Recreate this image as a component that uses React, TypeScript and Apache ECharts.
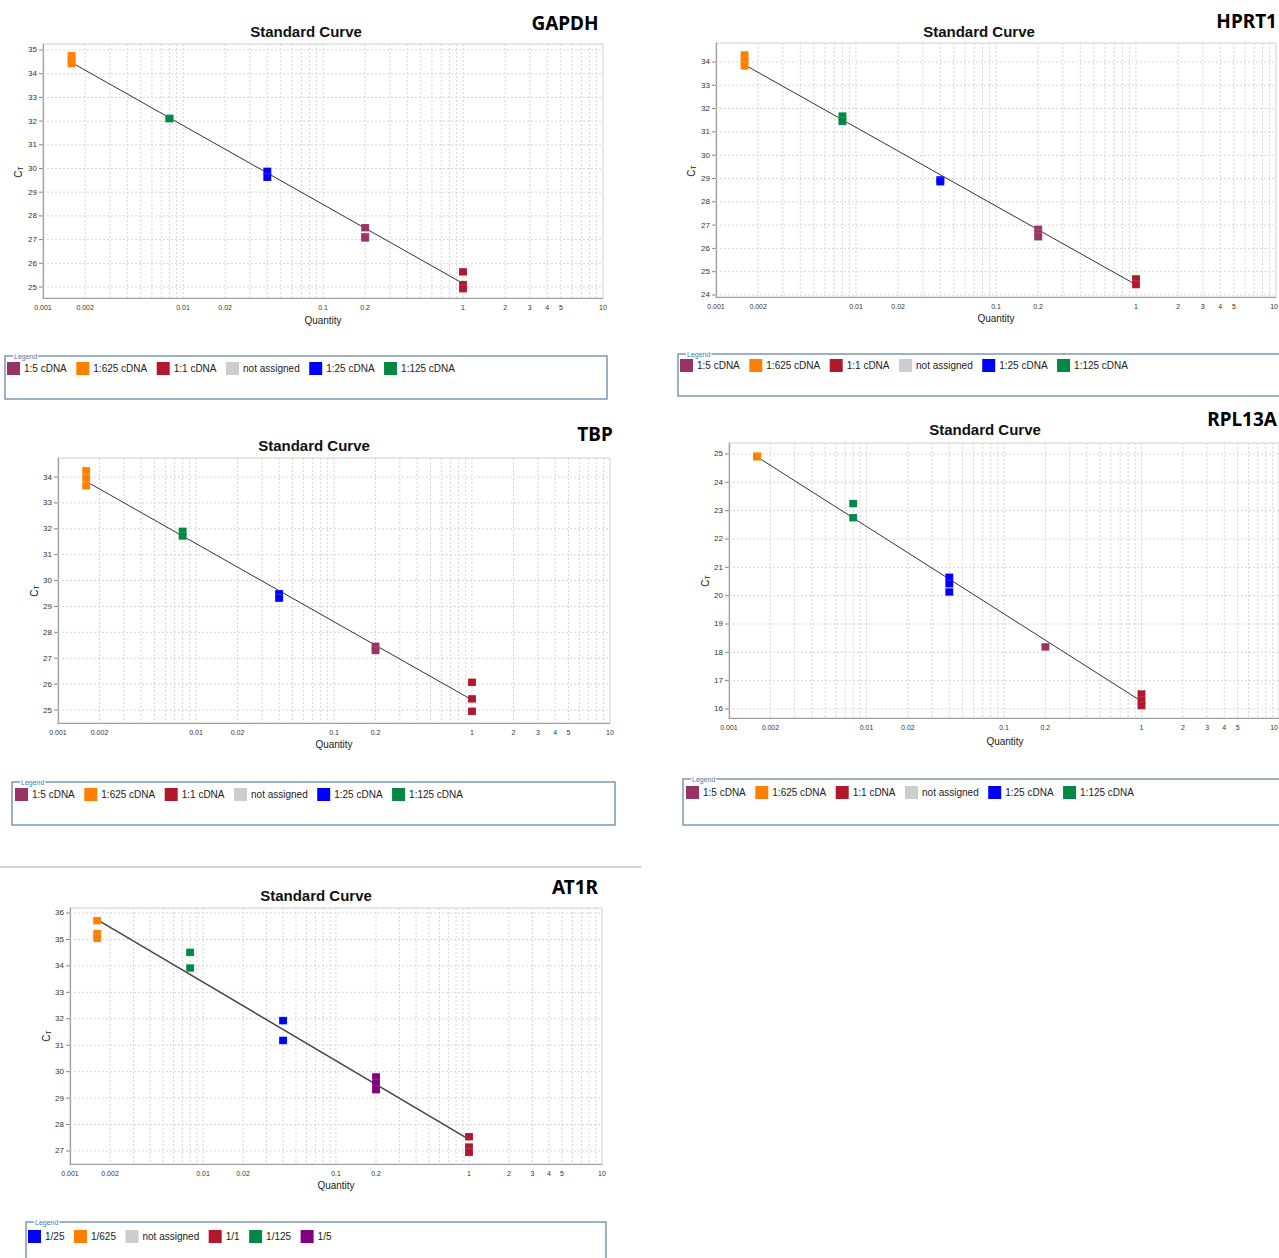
import { useEffect, useRef } from "react";
import * as echarts from "echarts";

// ---- quantities (relative cDNA dilutions) ----
const QTY_625 = 0.0016;
const QTY_125 = 0.008;
const QTY_25 = 0.04;
const QTY_5 = 0.2;
const QTY_1 = 1;

// ---- log axis grid / ticks ----
const xGridValues = [
  0.002, 0.003, 0.004, 0.005, 0.006, 0.007, 0.008, 0.009,
  0.01, 0.02, 0.03, 0.04, 0.05, 0.06, 0.07, 0.08, 0.09,
  0.1, 0.2, 0.3, 0.4, 0.5, 0.6, 0.7, 0.8, 0.9,
  1, 2, 3, 4, 5, 6, 7, 8, 9,
];
const xTickValues = [0.001, 0.002, 0.01, 0.02, 0.1, 0.2, 1, 2, 3, 4, 5, 10];
const xTickLabels = ["0.001", "0.002", "0.01", "0.02", "0.1", "0.2", "1", "2", "3", "4", "5", "10"];

// ---- GAPDH ----
const gapdhCt625 = [34.76, 34.6, 34.43];
const gapdhCt125 = [32.12, 32.1];
const gapdhCt25 = [29.88, 29.63];
const gapdhCt5 = [27.5, 27.12, 27.07];
const gapdhCt1 = [25.64, 25.1, 24.93];
const gapdhFit = [34.47, 25.15];
const gapdhYTicks = [25, 26, 27, 28, 29, 30, 31, 32, 33, 34, 35];

// ---- HPRT1 ----
const hprt1Ct625 = [34.3, 34.05, 33.83];
const hprt1Ct125 = [31.68, 31.45];
const hprt1Ct25 = [28.94, 28.86];
const hprt1Ct5 = [26.82, 26.65, 26.5];
const hprt1Ct1 = [24.69, 24.45];
const hprt1Fit = [33.88, 24.44];
const hprt1YTicks = [24, 25, 26, 27, 28, 29, 30, 31, 32, 33, 34];

// ---- TBP ----
const tbpCt625 = [34.24, 33.96, 33.66];
const tbpCt125 = [31.9, 31.72];
const tbpCt25 = [29.49, 29.32];
const tbpCt5 = [27.46, 27.3];
const tbpCt1 = [26.07, 25.43, 24.95];
const tbpFit = [33.83, 25.39];
const tbpYTicks = [25, 26, 27, 28, 29, 30, 31, 32, 33, 34];

// ---- RPL13A ----
const rpl13aCt625 = [24.93, 24.9];
const rpl13aCt125 = [23.25, 22.75];
const rpl13aCt25 = [20.65, 20.42, 20.13];
const rpl13aCt5 = [18.19];
const rpl13aCt1 = [16.53, 16.3, 16.12];
const rpl13aFit = [24.9, 16.27];
const rpl13aYTicks = [16, 17, 18, 19, 20, 21, 22, 23, 24, 25];

// ---- AT1R ----
const at1rCt625 = [35.71, 35.22, 35.04];
const at1rCt125 = [34.51, 33.92];
const at1rCt25 = [31.93, 31.18];
const at1rCt5 = [29.8, 29.56, 29.32];
const at1rCt1 = [27.54, 27.15, 26.95];
const at1rFit = [35.75, 27.44];
const at1rYTicks = [27, 28, 29, 30, 31, 32, 33, 34, 35, 36];

// ---- legends ----
const cdnaLegend = ["1:5 cDNA", "1:625 cDNA", "1:1 cDNA", "not assigned", "1:25 cDNA", "1:125 cDNA"];
const at1rLegend = ["1/25", "1/625", "not assigned", "1/1", "1/125", "1/5"];

// ---- colours ----
const C_MAROON = "#993366";
const C_ORANGE = "#ff8000";
const C_RED = "#b2182b";
const C_GREY = "#c0c0c0";
const C_BLUE = "#0000ff";
const C_GREEN = "#008844";
const C_PURPLE = "#800080";

const FONT = '"Liberation Sans", Arial, sans-serif';
const GENE_FONT = '"Noto Sans", "Open Sans", sans-serif';
const GRID_COLOR = "#d6d6d6";
const PAGE_W = 1279;

type Group = { name: string; color: string; qty: number; ct: number[] };
type Layout = {
  gene: string;
  left: number; top: number; width: number; height: number;
  yMin: number; yMax: number;
  title: number[]; geneXY: number[]; geneAlign: string;
  qXY: number[]; ctXY: number[];
  legendBox: number[]; legendItems: number[];
};

const layouts: Layout[] = [
  { gene: "GAPDH", left: 43, top: 44, width: 560, height: 254, yMin: 24.536, yMax: 35.253,
    title: [306, 31], geneXY: [565, 23], geneAlign: "center", qXY: [323, 320], ctXY: [18, 172],
    legendBox: [5, 356, 602, 43], legendItems: [7, 362] },
  { gene: "HPRT1", left: 716, top: 43, width: 560, height: 254, yMin: 23.914, yMax: 34.815,
    title: [979, 31], geneXY: [1277, 21], geneAlign: "right", qXY: [996, 318], ctXY: [691, 171],
    legendBox: [678, 354, 640, 42], legendItems: [680, 359] },
  { gene: "TBP", left: 58, top: 458, width: 552, height: 265, yMin: 24.498, yMax: 34.734,
    title: [314, 445], geneXY: [595, 434], geneAlign: "center", qXY: [334, 744], ctXY: [34, 591],
    legendBox: [12, 782, 603, 43], legendItems: [15, 788] },
  { gene: "RPL13A", left: 729, top: 443, width: 552, height: 275, yMin: 15.682, yMax: 25.388,
    title: [985, 429], geneXY: [1277, 419], geneAlign: "right", qXY: [1005, 741], ctXY: [705, 581],
    legendBox: [683, 779, 640, 46], legendItems: [686, 786] },
  { gene: "AT1R", left: 70, top: 908, width: 532, height: 256, yMin: 26.508, yMax: 36.189,
    title: [316, 895], geneXY: [575, 887], geneAlign: "center", qXY: [336, 1185], ctXY: [46, 1036],
    legendBox: [26, 1222, 580, 50], legendItems: [28, 1230] },
];

const cdnaGroups = (c625: number[], c125: number[], c25: number[], c5: number[], c1: number[]): Group[] => [
  { name: "1:5 cDNA", color: C_MAROON, qty: QTY_5, ct: c5 },
  { name: "1:625 cDNA", color: C_ORANGE, qty: QTY_625, ct: c625 },
  { name: "1:1 cDNA", color: C_RED, qty: QTY_1, ct: c1 },
  { name: "1:25 cDNA", color: C_BLUE, qty: QTY_25, ct: c25 },
  { name: "1:125 cDNA", color: C_GREEN, qty: QTY_125, ct: c125 },
];

const panels = [
  { groups: cdnaGroups(gapdhCt625, gapdhCt125, gapdhCt25, gapdhCt5, gapdhCt1), fit: gapdhFit, yTicks: gapdhYTicks, legend: cdnaLegend },
  { groups: cdnaGroups(hprt1Ct625, hprt1Ct125, hprt1Ct25, hprt1Ct5, hprt1Ct1), fit: hprt1Fit, yTicks: hprt1YTicks, legend: cdnaLegend },
  { groups: cdnaGroups(tbpCt625, tbpCt125, tbpCt25, tbpCt5, tbpCt1), fit: tbpFit, yTicks: tbpYTicks, legend: cdnaLegend },
  { groups: cdnaGroups(rpl13aCt625, rpl13aCt125, rpl13aCt25, rpl13aCt5, rpl13aCt1), fit: rpl13aFit, yTicks: rpl13aYTicks, legend: cdnaLegend },
  {
    groups: [
      { name: "1/25", color: C_BLUE, qty: QTY_25, ct: at1rCt25 },
      { name: "1/625", color: C_ORANGE, qty: QTY_625, ct: at1rCt625 },
      { name: "1/1", color: C_RED, qty: QTY_1, ct: at1rCt1 },
      { name: "1/125", color: C_GREEN, qty: QTY_125, ct: at1rCt125 },
      { name: "1/5", color: C_PURPLE, qty: QTY_5, ct: at1rCt5 },
    ],
    fit: at1rFit, yTicks: at1rYTicks, legend: at1rLegend,
  },
];

function buildOption() {
  const grid: any[] = [];
  const xAxis: any[] = [];
  const yAxis: any[] = [];
  const series: any[] = [];
  const legend: any[] = [];
  const graphic: any[] = [];

  graphic.push({
    type: "line", shape: { x1: 0, y1: 867, x2: 641, y2: 867 },
    style: { stroke: "#d4d4d4", lineWidth: 2 }, silent: true,
  });

  panels.forEach((p, i) => {
    const L = layouts[i];
    grid.push({
      left: L.left, top: L.top, width: L.width, height: L.height,
      show: true, borderColor: "#d0d0d0", borderWidth: 1, backgroundColor: "#fff",
    });
    xAxis.push({
      gridIndex: i, type: "log", logBase: 10, min: 0.001, max: 10,
      axisLabel: { show: false }, axisTick: { show: false }, splitLine: { show: false },
      axisLine: { show: true, onZero: false, lineStyle: { color: "#a0a0a0", width: 1.2 } },
    });
    yAxis.push({
      gridIndex: i, type: "value", min: L.yMin, max: L.yMax,
      axisLabel: { show: false }, axisTick: { show: false }, splitLine: { show: false },
      axisLine: { show: true, onZero: false, lineStyle: { color: "#a0a0a0", width: 1.2 } },
    });

    // vertical dashed grid lines
    series.push({
      type: "custom", xAxisIndex: i, yAxisIndex: i, silent: true, clip: false, z: 1,
      data: xGridValues.map((v) => [v, L.yMin]),
      renderItem: (_params: any, api: any) => {
        const v = api.value(0);
        const a = api.coord([v, L.yMax]);
        const b = api.coord([v, L.yMin]);
        return {
          type: "line",
          shape: { x1: a[0], y1: a[1], x2: b[0], y2: b[1] },
          style: { stroke: GRID_COLOR, lineWidth: 1, lineDash: [2, 2] },
        };
      },
    });
    // horizontal grid lines + y ticks + y labels
    series.push({
      type: "custom", xAxisIndex: i, yAxisIndex: i, silent: true, clip: false, z: 1,
      data: p.yTicks.map((v) => [0.001, v]),
      renderItem: (_params: any, api: any) => {
        const v = api.value(1);
        const a = api.coord([0.001, v]);
        const b = api.coord([10, v]);
        return {
          type: "group",
          children: [
            { type: "line", shape: { x1: a[0], y1: a[1], x2: b[0], y2: b[1] },
              style: { stroke: GRID_COLOR, lineWidth: 1, lineDash: [2, 2] } },
            { type: "line", shape: { x1: a[0] - 4, y1: a[1], x2: a[0], y2: a[1] },
              style: { stroke: "#888", lineWidth: 1 } },
            { type: "text", x: a[0] - 6, y: a[1],
              style: { text: String(v), fontSize: 8, fontFamily: FONT, fill: "#333", align: "right", verticalAlign: "middle" } },
          ],
        };
      },
    });
    // x tick labels
    series.push({
      type: "custom", xAxisIndex: i, yAxisIndex: i, silent: true, clip: false, z: 1,
      data: xTickValues.map((v) => [v, L.yMin]),
      renderItem: (params: any, api: any) => {
        const v = api.value(0);
        const a = api.coord([v, L.yMin]);
        const overflow = a[0] + 5 > PAGE_W;
        return {
          type: "text", x: overflow ? PAGE_W - 1 : a[0], y: a[1] + 6,
          style: {
            text: xTickLabels[params.dataIndex], fontSize: 7, fontFamily: FONT, fill: "#333",
            align: overflow ? "right" : "center", verticalAlign: "top",
          },
        };
      },
    });
    // fit line
    series.push({
      type: "line", xAxisIndex: i, yAxisIndex: i, silent: true, z: 3,
      data: [[QTY_625, p.fit[0]], [QTY_1, p.fit[1]]],
      symbol: "none",
      lineStyle: { color: i === 4 ? "#444" : "#333", width: i === 4 ? 1.5 : 1 },
    });
    // data points
    p.groups.forEach((g) => {
      series.push({
        type: "scatter", name: g.name, xAxisIndex: i, yAxisIndex: i, silent: true, z: 4,
        data: g.ct.map((c) => [g.qty, c]),
        symbol: "rect", symbolSize: [8, 7.5],
        itemStyle: { color: g.color, borderColor: "rgba(255,255,255,0.35)", borderWidth: 0.4, opacity: 1 },
      });
    });
    series.push({
      type: "scatter", name: "not assigned", xAxisIndex: i, yAxisIndex: i, silent: true,
      data: [], itemStyle: { color: C_GREY },
    });

    legend.push({
      left: L.legendItems[0], top: L.legendItems[1], orient: "horizontal",
      data: p.legend, icon: "rect", itemWidth: 13, itemHeight: 13, itemGap: 9.5, padding: 0,
      selectedMode: false, itemStyle: { borderWidth: 0 },
      textStyle: { fontSize: 10, fontFamily: FONT, color: "#222", padding: [0, 0, 0, -1] },
    });

    const [bx, by, bw, bh] = L.legendBox;
    graphic.push({
      type: "rect", shape: { x: bx, y: by, width: bw, height: bh },
      style: { fill: "none", stroke: "#7e98b4", lineWidth: 1.5 }, silent: true,
    });
    graphic.push({
      type: "text", x: bx + 8, y: by,
      style: { text: "Legend", fontSize: 7, fontFamily: FONT, fill: "#4a74aa", verticalAlign: "middle", backgroundColor: "#fff", padding: [0, 1] },
      silent: true,
    });
    graphic.push({
      type: "text", x: L.title[0], y: L.title[1],
      style: { text: "Standard Curve", font: `bold 15px ${FONT}`, fill: "#111", align: "center", verticalAlign: "middle" },
      silent: true,
    });
    graphic.push({
      type: "text", x: L.geneXY[0], y: L.geneXY[1],
      style: { text: L.gene, font: `bold 19px ${GENE_FONT}`, fill: "#000", align: L.geneAlign, verticalAlign: "middle" },
      silent: true,
    });
    graphic.push({
      type: "text", x: L.qXY[0], y: L.qXY[1],
      style: { text: "Quantity", fontSize: 10, fontFamily: FONT, fill: "#222", align: "center", verticalAlign: "middle" },
      silent: true,
    });
    graphic.push({
      type: "text", x: L.ctXY[0], y: L.ctXY[1], rotation: Math.PI / 2,
      style: {
        text: "{c|C}{t|T}", align: "center", verticalAlign: "middle",
        rich: {
          c: { fontSize: 10, fontFamily: FONT, fill: "#222", verticalAlign: "middle" },
          t: { fontSize: 7, fontFamily: FONT, fill: "#222", verticalAlign: "middle", padding: [5, 0, 0, 0] },
        },
      },
      silent: true,
    });
  });

  return {
    animation: false,
    backgroundColor: "#fff",
    grid, xAxis, yAxis, series, legend, graphic,
  };
}

export default function App() {
  const ref = useRef<HTMLDivElement>(null);
  useEffect(() => {
    if (!ref.current) return;
    const chart = echarts.init(ref.current, null, { renderer: "svg" });
    chart.setOption(buildOption() as any);
    return () => chart.dispose();
  }, []);
  return (
    <div
      ref={ref}
      style={{ position: "absolute", left: 0, top: 0, width: 1279, height: 1258, background: "#fff" }}
    />
  );
}
